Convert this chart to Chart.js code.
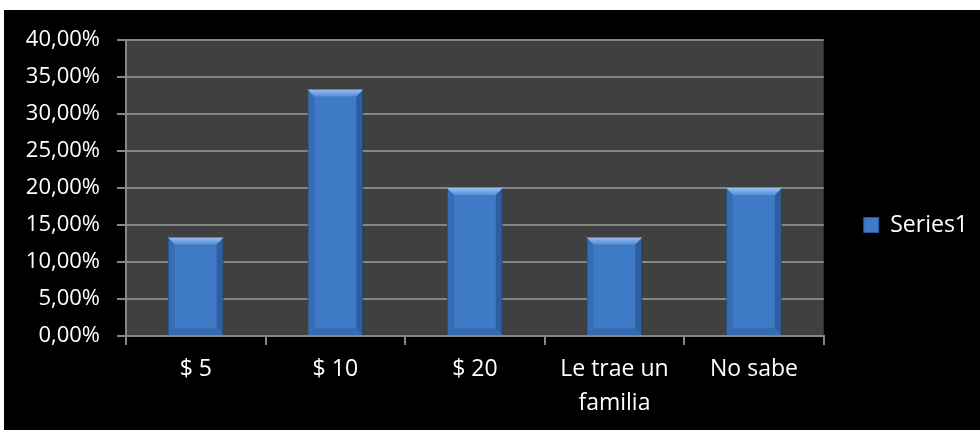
<!DOCTYPE html>
<html>
<head>
<meta charset="utf-8">
<script src="https://cdn.jsdelivr.net/npm/chart.js@4"></script>
<style>
    html, body { margin: 0; padding: 0; background: #ffffff; }
    #wrap { position: absolute; left: 4px; top: 10px; width: 976px; height: 420px; background: #000000; }
</style>
</head>
<body>
<div id="wrap"><canvas id="surveyChart"></canvas></div>
<script>
// Survey answers (share of respondents, %)
const categories = ['$ 5', '$ 10', '$ 20', ['Le trae un', 'familia'], 'No sabe'];
const seriesName = 'Series1';
const seriesValues = [13.33, 33.33, 20.00, 13.33, 20.00];
const yTicks = { min: 0, max: 40, step: 5 };

const barBlue = '#3f7ac6';
const gridGray = '#868686';
const fontFamily = '"Open Sans", "Noto Sans", sans-serif';

// dark grey plot area like the Excel original
const plotBackground = {
    id: 'plotBackground',
    beforeDraw(chart) {
        const { ctx, chartArea } = chart;
        ctx.save();
        ctx.fillStyle = '#404040';
        ctx.fillRect(chartArea.left, chartArea.top, chartArea.right - chartArea.left, chartArea.bottom - chartArea.top);
        ctx.restore();
    }
};

// bevel shading on top of each bar
const barBevel = {
    id: 'barBevel',
    afterDatasetsDraw(chart) {
        const ctx = chart.ctx;
        const meta = chart.getDatasetMeta(0);
        meta.data.forEach(bar => {
            const p = bar.getProps(['x', 'y', 'base', 'width'], true);
            const l = p.x - p.width / 2, r = p.x + p.width / 2, t = p.y, b = p.base;
            const s = 7;
            ctx.save();
            // top light
            const g = ctx.createLinearGradient(0, t, 0, t + s);
            g.addColorStop(0, 'rgba(170,210,255,0.85)');
            g.addColorStop(1, 'rgba(120,170,235,0.45)');
            ctx.fillStyle = g;
            ctx.beginPath();
            ctx.moveTo(l, t); ctx.lineTo(r, t); ctx.lineTo(r - s, t + s); ctx.lineTo(l + s, t + s); ctx.closePath();
            ctx.fill();
            // left edge
            ctx.fillStyle = 'rgba(20,50,100,0.18)';
            ctx.beginPath();
            ctx.moveTo(l, t); ctx.lineTo(l + s, t + s); ctx.lineTo(l + s, b - s); ctx.lineTo(l, b); ctx.closePath();
            ctx.fill();
            // right edge
            ctx.fillStyle = 'rgba(10,30,70,0.3)';
            ctx.beginPath();
            ctx.moveTo(r, t); ctx.lineTo(r - s, t + s); ctx.lineTo(r - s, b - s); ctx.lineTo(r, b); ctx.closePath();
            ctx.fill();
            // bottom edge
            ctx.fillStyle = 'rgba(10,30,70,0.15)';
            ctx.beginPath();
            ctx.moveTo(l, b); ctx.lineTo(l + s, b - s); ctx.lineTo(r - s, b - s); ctx.lineTo(r, b); ctx.closePath();
            ctx.fill();
            ctx.restore();
        });
    }
};

new Chart(document.getElementById('surveyChart'), {
    type: 'bar',
    data: {
        labels: categories,
        datasets: [{
            label: seriesName,
            data: seriesValues,
            backgroundColor: barBlue,
            borderColor: '#2a5896',
            borderWidth: 1,
            barPercentage: 0.4,
            categoryPercentage: 1
        }]
    },
    options: {
        responsive: true,
        maintainAspectRatio: false,
        animation: false,
        layout: { padding: { top: 10, right: 2, bottom: 0, left: 0 } },
        plugins: {
            title: { display: true, text: '', font: { size: 10 }, padding: { top: 4, bottom: 4 } },
            tooltip: { enabled: false },
            legend: {
                position: 'right',
                labels: {
                    color: '#ffffff',
                    font: { family: fontFamily, size: 23 },
                    boxWidth: 15,
                    boxHeight: 15,
                    padding: 40,
                    generateLabels(chart) {
                        return chart.data.datasets.map((ds, i) => ({
                            text: ds.label,
                            fillStyle: barBlue,
                            strokeStyle: '#2a5896',
                            lineWidth: 1,
                            fontColor: '#ffffff',
                            datasetIndex: i
                        }));
                    }
                }
            }
        },
        scales: {
            x: {
                afterFit(scale) { scale.height = 94; },
                grid: {
                    offset: true,
                    drawOnChartArea: false,
                    color: gridGray,
                    lineWidth: 2,
                    tickLength: 9
                },
                border: { display: true, color: gridGray, width: 2 },
                ticks: {
                    color: '#ffffff',
                    font: { family: fontFamily, size: 23, lineHeight: 1.45 },
                    padding: 8,
                    maxRotation: 0,
                    autoSkip: false
                }
            },
            y: {
                min: yTicks.min,
                max: yTicks.max,
                afterFit(scale) { scale.width = 122; },
                grid: {
                    color: gridGray,
                    lineWidth: 2,
                    tickLength: 9
                },
                border: { display: true, color: gridGray, width: 2 },
                ticks: {
                    stepSize: yTicks.step,
                    color: '#ffffff',
                    font: { family: fontFamily, size: 22 },
                    padding: 17,
                    callback: v => v.toFixed(2).replace('.', ',') + '%'
                }
            }
        }
    },
    plugins: [plotBackground, barBevel]
});
</script>
</body>
</html>
